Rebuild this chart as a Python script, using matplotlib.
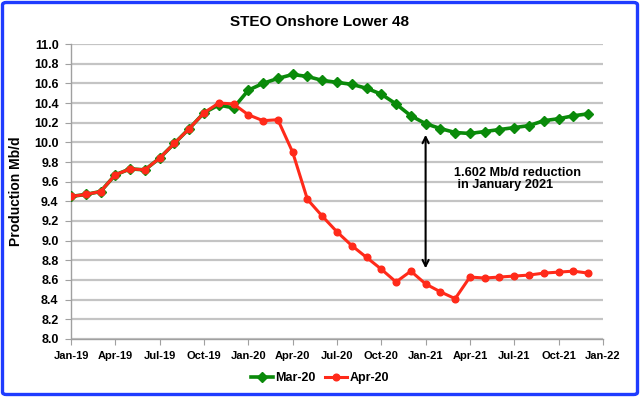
import numpy as np
import matplotlib
matplotlib.use('Agg')
import matplotlib.pyplot as plt
from matplotlib.patches import FancyBboxPatch

plt.rcParams['font.family'] = ['Liberation Sans', 'DejaVu Sans']
plt.rcParams['font.weight'] = 'bold'

# monthly STEO forecasts, Jan-19 .. Dec-21
mar20 = [9.45, 9.47, 9.50, 9.67, 9.73, 9.72, 9.84, 9.99, 10.14, 10.30, 10.38, 10.35,
         10.53, 10.60, 10.65, 10.69, 10.67, 10.63, 10.61, 10.59, 10.55, 10.49, 10.39, 10.27,
         10.19, 10.14, 10.10, 10.09, 10.11, 10.13, 10.15, 10.17, 10.22, 10.24, 10.27, 10.29]
apr20 = [9.45, 9.47, 9.50, 9.67, 9.73, 9.72, 9.84, 9.99, 10.14, 10.30, 10.40, 10.39,
         10.28, 10.22, 10.23, 9.90, 9.42, 9.25, 9.09, 8.95, 8.83, 8.71, 8.58, 8.69,
         8.56, 8.48, 8.41, 8.63, 8.62, 8.63, 8.64, 8.65, 8.67, 8.68, 8.69, 8.67]
tick_labels = ['Jan-19', 'Apr-19', 'Jul-19', 'Oct-19', 'Jan-20', 'Apr-20', 'Jul-20',
               'Oct-20', 'Jan-21', 'Apr-21', 'Jul-21', 'Oct-21', 'Jan-22']

x = np.arange(len(mar20))

fig = plt.figure(figsize=(6.4, 3.99), dpi=100, facecolor='white')
ax = fig.add_axes([0.111, 0.1504, 0.831, 0.7393])

green = '#0a8a0a'
red = '#ff2a1a'
ax.plot(x, mar20, color=green, lw=2.6, marker='D', ms=5, mec=green, mfc=green,
        label='Mar-20', zorder=3)
ax.plot(x, apr20, color=red, lw=2.2, marker='o', ms=4.8, mec=red, mfc=red,
        label='Apr-20', zorder=4)

# reduction arrow at Jan-21
ax.annotate('', xy=(24, 10.105), xytext=(24, 8.69),
            arrowprops=dict(arrowstyle='<->', color='black', lw=1.5, mutation_scale=11),
            zorder=5)
ax.text(25.9, 9.625, '1.602 Mb/d reduction\n in January 2021', ha='left', va='center',
        fontsize=9.2, fontweight='bold', linespacing=1.05)

ax.set_xlim(0, 36)
ax.set_ylim(8.0, 11.0)
ax.set_xticks(np.arange(0, 37, 3))
ax.set_xticklabels(tick_labels)
ax.set_yticks(np.arange(8.0, 11.01, 0.2))
ax.set_yticklabels(['%.1f' % v for v in np.arange(8.0, 11.01, 0.2)])
ax.tick_params(axis='x', labelsize=8, length=4, color='#a0a0a0', pad=5)
ax.tick_params(axis='y', labelsize=9, length=4, color='#a0a0a0', pad=5)
ax.grid(axis='y', color='#c4c4c4', lw=1.6)
ax.set_axisbelow(True)
for s in ['top', 'right']:
    ax.spines[s].set_visible(False)
for s in ['left', 'bottom']:
    ax.spines[s].set_color('#a0a0a0')
    ax.spines[s].set_linewidth(1.0)

ax.set_ylabel('Production Mb/d', fontsize=10, fontweight='bold', labelpad=8)
fig.text(0.5, 1 - 21.5 / 399, 'STEO Onshore Lower 48', ha='center', va='center',
         fontsize=11, fontweight='bold')

fig.legend(loc='center', bbox_to_anchor=(0.5, 1 - 378 / 399), ncol=2, frameon=False,
           handlelength=1.7, handletextpad=0.2, columnspacing=0.8,
           prop={'weight': 'bold', 'size': 9})

border = FancyBboxPatch((2.5 / 640, 4.5 / 399), 635 / 640, 392 / 399,
                        boxstyle='round,pad=0,rounding_size=0.006',
                        transform=fig.transFigure, fill=False, ec='#1f3cff', lw=2.4)
fig.patches.append(border)

fig.savefig('out.png', dpi=100, facecolor='white')
